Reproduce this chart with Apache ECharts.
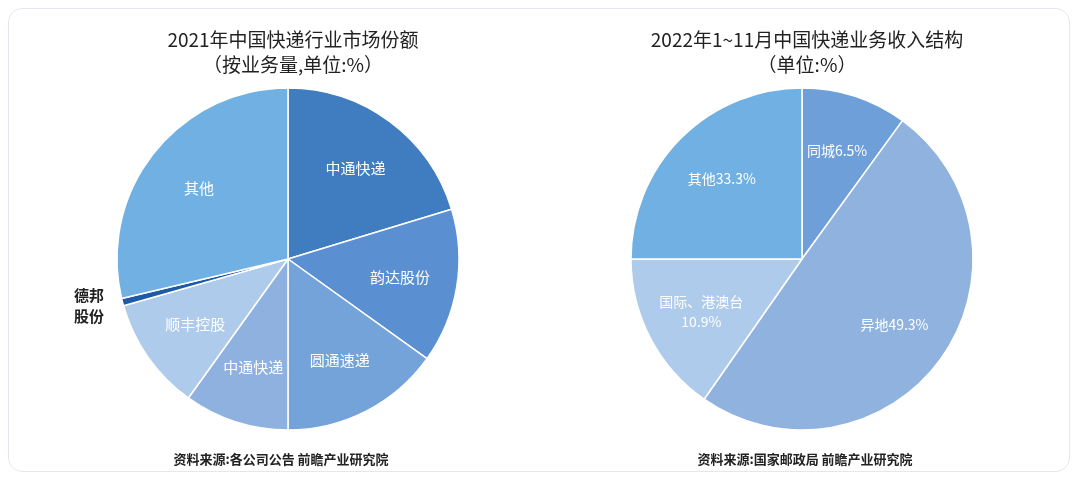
<!DOCTYPE html>
<html>
<head>
<meta charset="utf-8">
<style>
html,body{margin:0;padding:0;background:#fff;width:1080px;height:482px;}
#card{position:absolute;left:8px;top:8px;width:1062px;height:464px;border:1px solid #e3e8ef;border-radius:14px;box-sizing:border-box;}
#main{position:absolute;left:0;top:0;width:1080px;height:482px;}
</style>
<script src="https://cdn.jsdelivr.net/npm/echarts@6/dist/echarts.min.js"></script>
</head>
<body>
<div id="card"></div>
<div id="main"></div>
<script>
// left pie: 2021 market share (angles)
var leftNames = ['中通快递', '韵达股份', '圆通速递', '中通快递', '顺丰控股', '德邦股份', '其他'];
var leftValues = [20.3, 14.6, 15.1, 9.9, 10.7, 0.7, 28.7];
var leftColors = ['#3f7cc0', '#5a8fd1', '#74a3da', '#8eb1df', '#aecbeb', '#1e5aa8', '#70b0e2'];

// right pie: 2022 revenue structure
var rightNames = ['同城6.5%', '异地49.3%', '国际、港澳台\n10.9%', '其他33.3%'];
var rightValues = [10, 49.7, 15.3, 25];
var rightColors = ['#6f9fd9', '#8fb2df', '#aecbeb', '#70b0e2'];

var font = '"Noto Sans CJK SC", "Noto Sans", sans-serif';

function build(names, values, colors) {
    var out = [];
    for (var i = 0; i < names.length; i++) {
        out.push({name: names[i], value: values[i], itemStyle: {color: colors ? colors[i] : 'rgba(0,0,0,0)'}});
    }
    return out;
}

var leftData = build(leftNames, leftValues, leftColors);

var leftLabels = build(leftNames, leftValues, null);
leftLabels[5].label = {show: false};

var dbData = build(leftNames, leftValues, null);
for (var i = 0; i < dbData.length; i++) {
    dbData[i].label = {show: false};
}
dbData[5].label = {show: true, position: 'outside', color: '#222', fontWeight: 'bold', fontSize: 15,
    fontFamily: font, formatter: '德邦\n股份', lineHeight: 21};

function mainPie(cx, data) {
    return {
        type: 'pie', center: [cx, 259], radius: [0, 171], startAngle: 90,
        itemStyle: {borderColor: '#fff', borderWidth: 1.5},
        label: {show: false}, labelLine: {show: false}, data: data
    };
}
function labelPie(cx, data, fs) {
    return {
        type: 'pie', center: [cx, 259], radius: [50, 171], startAngle: 90, silent: true,
        itemStyle: {borderWidth: 0},
        label: {position: 'inside', color: '#fff', fontSize: fs, fontFamily: font, lineHeight: 20},
        labelLine: {show: false}, data: data
    };
}

var myChart = echarts.init(document.getElementById('main'));
myChart.setOption({
    animation: false,
    title: [
        {text: '2021年中国快递行业市场份额\n（按业务量,单位:%）', left: 288, top: 22, textAlign: 'center',
         textStyle: {fontFamily: font, fontSize: 19, fontWeight: 'normal', color: '#222', lineHeight: 25}},
        {text: '2022年1~11月中国快递业务收入结构\n（单位:%）', left: 802, top: 22, textAlign: 'center',
         textStyle: {fontFamily: font, fontSize: 19, fontWeight: 'normal', color: '#222', lineHeight: 25}},
        {text: '资料来源:各公司公告 前瞻产业研究院', left: 276, top: 448, textAlign: 'center',
         textStyle: {fontFamily: font, fontSize: 13, fontWeight: 'bold', color: '#222'}},
        {text: '资料来源:国家邮政局 前瞻产业研究院', left: 800, top: 448, textAlign: 'center',
         textStyle: {fontFamily: font, fontSize: 13, fontWeight: 'bold', color: '#222'}}
    ],
    series: [
        mainPie(288, leftData),
        labelPie(288, leftLabels, 15),
        {
            type: 'pie', center: [288, 259], radius: [0, 171], startAngle: 90, silent: true,
            itemStyle: {borderWidth: 0},
            labelLine: {show: false, length: 14, length2: 0},
            label: {show: false}, data: dbData
        },
        mainPie(802, build(rightNames, rightValues, rightColors)),
        labelPie(802, build(rightNames, rightValues, null), 14)
    ]
});
</script>
</body>
</html>
